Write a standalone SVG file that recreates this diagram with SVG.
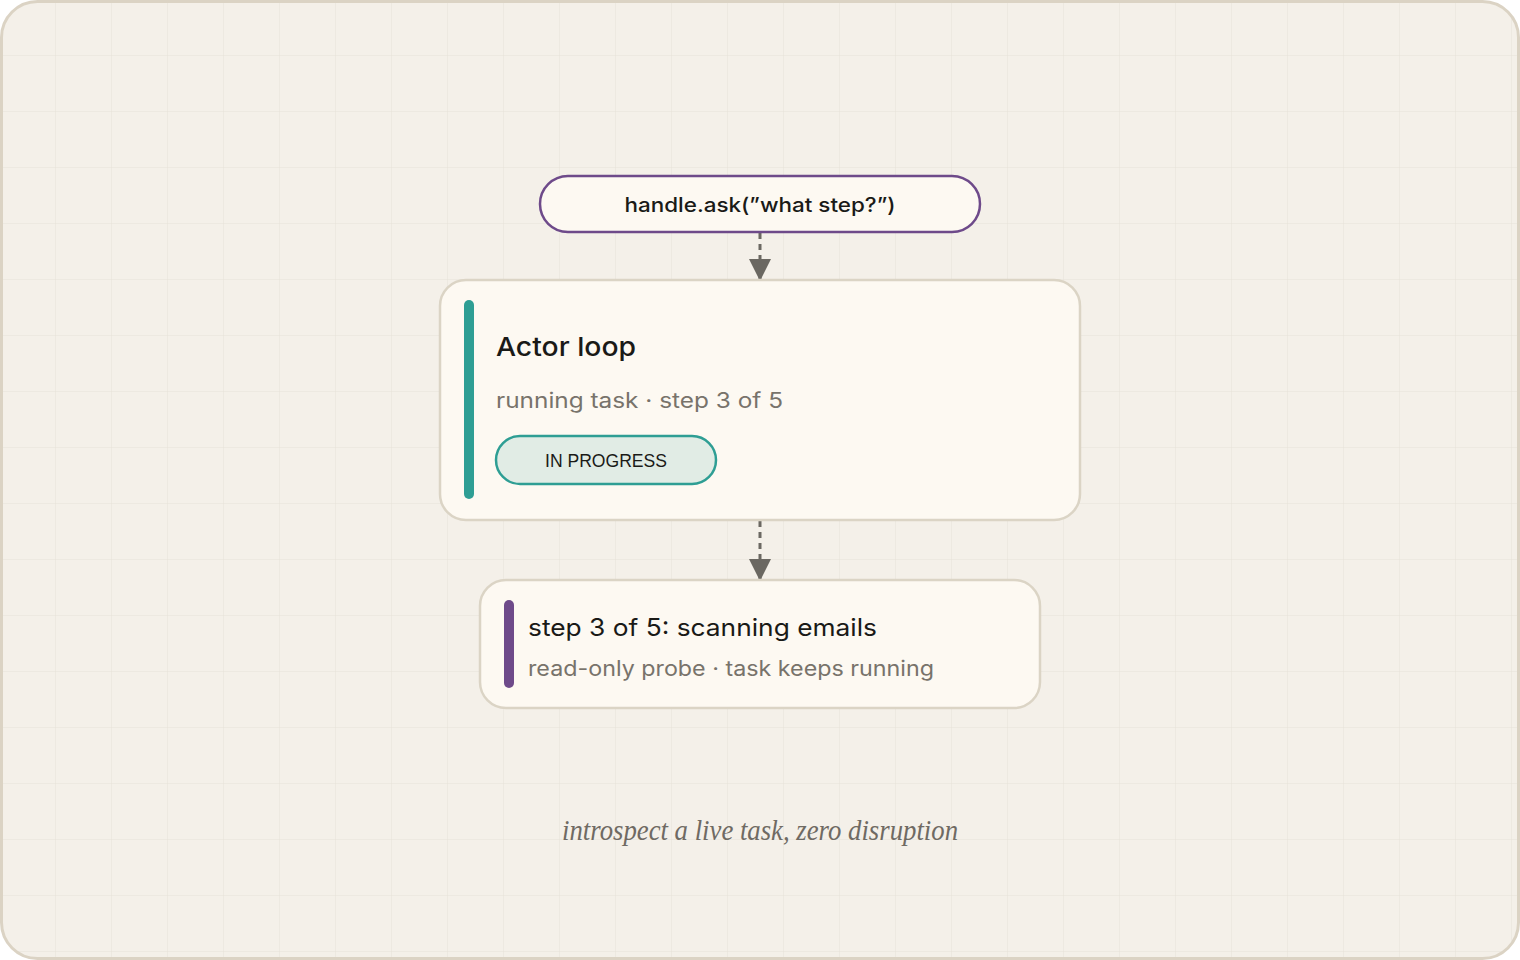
<svg xmlns="http://www.w3.org/2000/svg" width="1520" height="960" viewBox="0 0 1520 960">
<defs>
<pattern id="grid" width="56" height="56" patternUnits="userSpaceOnUse">
<path d="M56 0V56M0 56H56" fill="none" stroke="#e7e2d9" stroke-width="1"/>
</pattern>
<marker id="arr" viewBox="0 0 22 22" markerWidth="22" markerHeight="22" refX="22" refY="11" orient="auto" markerUnits="userSpaceOnUse">
<path d="M0 0L22 11L0 22Z" fill="#6b6862"/>
</marker>
<style>
.sans{font-family:Inter,"Noto Sans","Liberation Sans",sans-serif}
.card{fill:#fdf9f2;stroke:#dbd4c5;stroke-width:2.5}
.edge{fill:none;stroke:#6b6862;stroke-width:3;stroke-dasharray:6 5}
.sub{font-size:21px;fill:#78736b}
</style>
</defs>
<rect x="1.5" y="1.5" width="1517" height="957" rx="36" fill="#f4f0e9"/>
<rect x="1.5" y="1.5" width="1517" height="957" rx="36" fill="url(#grid)"/>
<rect x="1.5" y="1.5" width="1517" height="957" rx="36" fill="none" stroke="#dbd3c4" stroke-width="3"/>
<g id="connectors">
<path class="edge" d="M760 233V281" marker-end="url(#arr)"/>
<path class="edge" d="M760 521V581" marker-end="url(#arr)"/>
</g>
<g id="ask">
<rect x="540" y="176" width="440" height="56" rx="28" fill="#fdf9f2" stroke="#6e4a8a" stroke-width="2.5"/>
<text class="sans" x="760" y="212" text-anchor="middle" font-size="20" font-weight="500" fill="#1a1a17" textLength="271" lengthAdjust="spacingAndGlyphs">handle.ask(”what step?”)</text>
</g>
<g id="actor">
<rect class="card" x="440" y="280" width="640" height="240" rx="26"/>
<rect x="464" y="300" width="10" height="199" rx="5" fill="#2e9e94"/>
<text class="sans" x="496" y="356" font-size="26" font-weight="500" fill="#1a1a17" textLength="140" lengthAdjust="spacingAndGlyphs">Actor loop</text>
<text class="sans sub" x="496" y="408" textLength="287" lengthAdjust="spacingAndGlyphs">running task · step 3 of 5</text>
<rect x="496" y="436" width="220" height="48" rx="24" fill="#e1ece5" stroke="#2e9e94" stroke-width="2.5"/>
<text x="606" y="467" text-anchor="middle" font-family="'Liberation Sans',Arial,sans-serif" font-size="19" font-weight="500" fill="#1a1a17" textLength="122" lengthAdjust="spacingAndGlyphs">IN PROGRESS</text>
</g>
<g id="result">
<rect class="card" x="480" y="580" width="560" height="128" rx="26"/>
<rect x="504" y="600" width="10" height="88" rx="5" fill="#6e4a8a"/>
<text class="sans" x="528" y="636" font-size="24" fill="#1a1a17" textLength="349" lengthAdjust="spacingAndGlyphs">step 3 of 5: scanning emails</text>
<text class="sans sub" x="528" y="676" textLength="406" lengthAdjust="spacingAndGlyphs">read-only probe · task keeps running</text>
</g>
<text x="760" y="840" text-anchor="middle" font-family="'Liberation Serif','DejaVu Serif',serif" font-style="italic" font-size="30" fill="#6f6a63" textLength="396" lengthAdjust="spacingAndGlyphs">introspect a live task, zero disruption</text>
</svg>
